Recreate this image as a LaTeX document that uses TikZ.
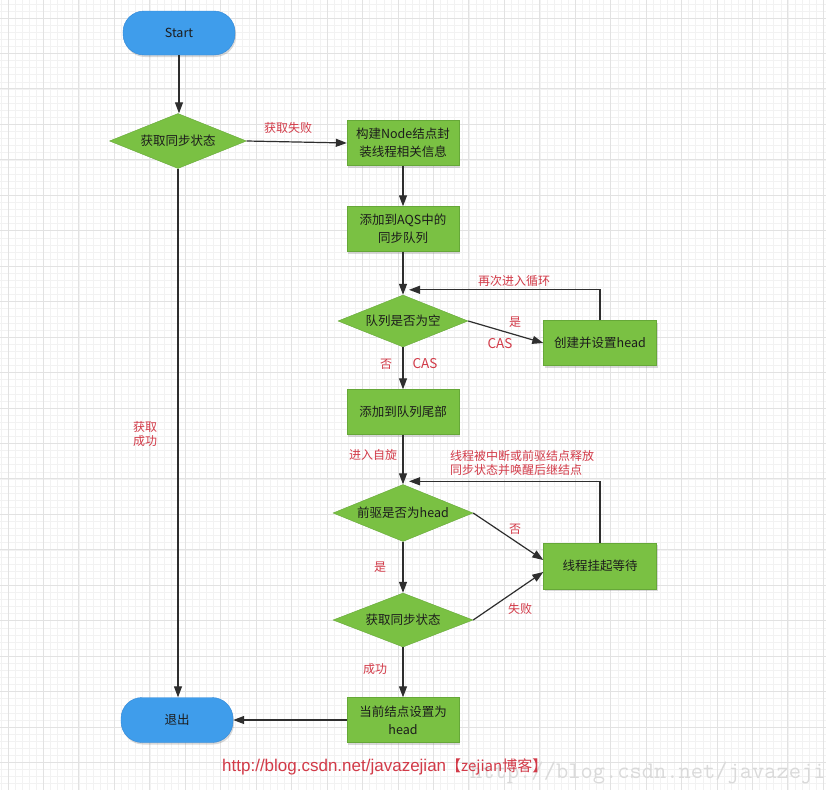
\documentclass[tikz,border=0pt]{standalone}
\usepackage{fontspec}
\newfontfamily\cjk{Noto Sans CJK SC}
\newfontfamily\urlfont{Liberation Sans}
\usetikzlibrary{shapes.geometric,arrows.meta,shadows}

\definecolor{flowgreen}{HTML}{7AC143}
\definecolor{flowgreenedge}{HTML}{66A838}
\definecolor{flowblue}{HTML}{3F9DEB}
\definecolor{flowblueedge}{HTML}{3188D8}
\definecolor{labelred}{HTML}{D23A48}
\definecolor{inktext}{HTML}{1C1C1C}
\definecolor{gridminor}{HTML}{F2F2F2}
\definecolor{gridmajor}{HTML}{E2E2E2}
\definecolor{wmgray}{HTML}{DADADA}

\begin{document}
\begin{tikzpicture}[x=1pt,y=-1pt,
  every node/.style={font=\cjk\fontsize{12.5}{18}\selectfont, text=inktext},
  shade/.style={drop shadow={shadow xshift=1pt,shadow yshift=-2pt,opacity=0.3}},
  terminal/.style={draw=flowblueedge, fill=flowblue, rounded corners=21pt,
    minimum width=112pt, minimum height=44pt, inner sep=0pt, shade},
  stepbox/.style={draw=flowgreenedge, fill=flowgreen, minimum width=112pt,
    minimum height=45pt, inner sep=0pt, align=center, shade},
  decision/.style={diamond, shape aspect=2.5, draw=flowgreenedge, fill=flowgreen,
    inner sep=0pt},
  flow/.style={draw=black!82, line width=1.2pt, -{Triangle[length=11pt,width=8pt]}},
  note/.style={text=labelred, font=\cjk\fontsize{12}{14}\selectfont, inner sep=0pt},
  casnote/.style={note, font=\cjk\fontsize{13.5}{15}\selectfont}]

% canvas and graph paper
\fill[white] (0,0) rectangle (826,790);
\useasboundingbox (0,0) rectangle (826,790);
\clip (0,0) rectangle (826,790);
\foreach \k in {0,...,117}
  \draw[gridminor, line width=0.5pt] ({0.91+\k*7.09},0) -- ++(0,790);
\foreach \k in {0,...,112}
  \draw[gridminor, line width=0.5pt] (0,{3.82+\k*7.09}) -- ++(826,0);
\foreach \k in {0,...,23}
  \draw[gridmajor, line width=0.9pt] ({8+\k*35.45},0) -- ++(0,790);
\foreach \k in {0,...,22}
  \draw[gridmajor, line width=0.9pt] (0,{18+\k*35.45}) -- ++(826,0);

% nodes
\node[terminal] (start) at (179,33) {Start};
\node[decision, minimum width=137pt, minimum height=55pt] (acq) at (178,141) {获取同步状态};
\node[stepbox] (build) at (403,143) {构建Node结点封\\装线程相关信息};
\node[stepbox] (enq) at (403,229) {添加到AQS中的\\同步队列};
\node[decision, minimum width=130pt, minimum height=52pt] (empty) at (403,321) {队列是否为空};
\node[stepbox, minimum width=113pt] (mkhead) at (600,343) {创建并设置head};
\node[stepbox] (tail) at (403,412) {添加到队列尾部};
\node[decision, minimum width=140pt, minimum height=57pt] (pred) at (403,513) {前驱是否为head};
\node[stepbox, minimum width=113pt, minimum height=46pt] (park) at (600,566) {线程挂起等待};
\node[decision, minimum width=140pt, minimum height=54pt] (retry) at (403,620) {获取同步状态};
\node[stepbox] (sethead) at (403,720) {当前结点设置为\\head};
\node[terminal, minimum height=45pt] (exit) at (177,720) {退出};

% connectors
\draw[flow] (start.south) -- (start.south |- acq.north);
\draw[flow] (acq.east) -- (build.west);
\draw[flow] (build) -- (enq);
\draw[flow] (enq) -- (empty);
\draw[flow] (empty.east) -- (mkhead.west);
\draw[flow] (mkhead.north) |- ([xshift=6pt,yshift=5pt]empty.north);
\draw[flow] (empty) -- (tail);
\draw[flow] (tail) -- (pred);
\draw[flow] (pred.east) -- ([yshift=6pt]park.west);
\draw[flow] (park.north) |- ([xshift=6pt,yshift=3pt]pred.north);
\draw[flow] (pred) -- (retry);
\draw[flow] (retry.east) -- ([yshift=-6pt]park.west);
\draw[flow] (retry) -- (sethead);
\draw[flow] (sethead) -- (exit);
\draw[flow] (acq.south) -- (acq.south |- exit.north);

% connector labels
\node[note] (failfirst) at (288,128) {获取失败};
\node[note] (emptyyes) at (515,322) {是};
\node[casnote] (casright) at (500,344) {CAS};
\node[note] (loopagain) at (514,281) {再次进入循环};
\node[note] (emptyno) at (386,364) {否};
\node[casnote] (casdown) at (425,364) {CAS};
\node[note] (spin) at (373,455) {进入自旋};
\node[note, align=left] (wake) at (522,463) {线程被中断或前驱结点释放\\同步状态并唤醒后继结点};
\node[note] (predno) at (515,529) {否};
\node[note] (predyes) at (380,567) {是};
\node[note] (retryfail) at (520,609) {失败};
\node[note] (retryok) at (375,669) {成功};
\node[note, align=center] (firstok) at (145,434) {获取\\成功};

% blog address
\node[anchor=west, inner sep=0pt, text=wmgray] (mark) at (470,773)
  {\ttfamily\fontsize{23.8}{26}\selectfont http://blog.csdn.net/javazejian};
\node[anchor=west, inner sep=0pt, text=labelred] (blog) at (222,767)
  {\urlfont\fontsize{17}{20}\selectfont http://blog.csdn.net/javazejian\cjk\fontsize{15}{20}\selectfont【zejian博客】};
\end{tikzpicture}
\end{document}
